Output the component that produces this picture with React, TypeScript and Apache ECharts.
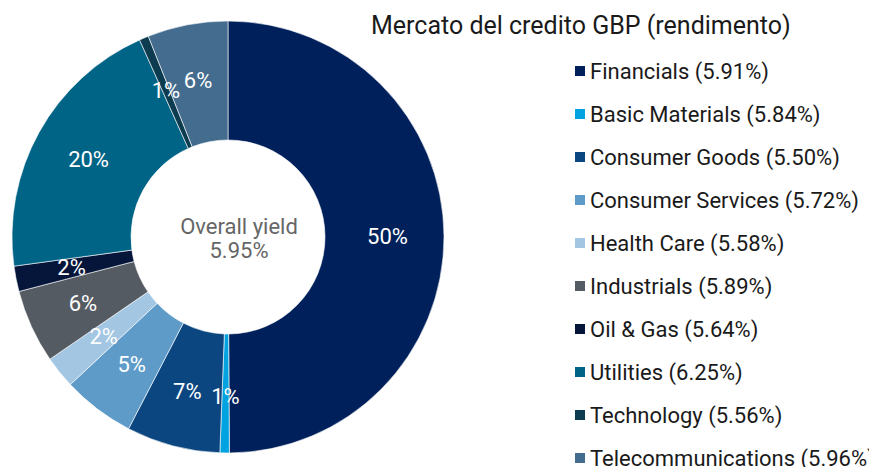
import React, { useEffect, useRef } from "react";
import * as echarts from "echarts";

const sectors = [
  "Financials",
  "Basic Materials",
  "Consumer Goods",
  "Consumer Services",
  "Health Care",
  "Industrials",
  "Oil & Gas",
  "Utilities",
  "Technology",
  "Telecommunications",
];
const weights = [49.8, 0.7, 7.0, 5.4, 2.4, 5.5, 1.9, 20.4, 0.7, 6.0];
const yields = ["5.91%", "5.84%", "5.50%", "5.72%", "5.58%", "5.89%", "5.64%", "6.25%", "5.56%", "5.96%"];
const colors = [
  "#00205B",
  "#00A3E0",
  "#0B4680",
  "#5E9BC8",
  "#A3C6E2",
  "#555B63",
  "#05163A",
  "#006487",
  "#0D3B4F",
  "#436C8E",
];
const title = "Mercato del credito GBP (rendimento)";
const centerLines = ["Overall yield", "5.95%"];

const FONT = "Roboto, sans-serif";

export default function App() {
  const ref = useRef<HTMLDivElement>(null);
  useEffect(() => {
    if (!ref.current) return;
    const chart = echarts.init(ref.current, undefined, { renderer: "svg" });
    const yieldMap: Record<string, string> = {};
    sectors.forEach((s, i) => (yieldMap[s] = yields[i]));
    chart.setOption({
      animation: false,
      color: colors,
      title: {
        text: title,
        left: 366,
        top: 8,
        textStyle: { fontFamily: FONT, fontSize: 25, fontWeight: "normal", color: "#1a1a1a" },
      },
      legend: {
        orient: "vertical",
        left: 568,
        top: 55,
        height: 600,
        itemWidth: 12,
        itemHeight: 12,
        itemGap: 21,
        icon: "rect",
        selectedMode: false,
        formatter: (name: string) => `${name} (${yieldMap[name]})`,
        textStyle: { fontFamily: FONT, fontSize: 22, color: "#1a1a1a", lineHeight: 22, padding: [0, 0, 0, -1] },
        data: sectors,
      },
      graphic: [
        {
          type: "text",
          x: 239,
          y: 238,
          style: {
            text: centerLines.join("\n"),
            textAlign: "center",
            textVerticalAlign: "middle",
            fontFamily: FONT,
            fontSize: 22,
            lineHeight: 24,
            fill: "#666666",
          },
        },
      ],
      series: [
        {
          type: "pie",
          center: [228, 237],
          radius: [97, 216],
          startAngle: 90,
          clockwise: true,
          avoidLabelOverlap: false,
          itemStyle: { borderColor: "#ffffff", borderWidth: 0.6 },
          label: {
            show: true,
            position: "inside",
            color: "#ffffff",
            fontFamily: FONT,
            fontSize: 22,
            formatter: (p: any) => `${Math.round(p.value)}%`,
          },
          labelLine: { show: false },
          emphasis: { disabled: true },
          data: sectors.map((s, i) => ({ name: s, value: weights[i] })),
        },
      ],
    });
    return () => chart.dispose();
  }, []);
  return (
    <div
      ref={ref}
      style={{ position: "absolute", left: 0, top: 0, width: 869, height: 467, background: "#ffffff" }}
    />
  );
}
